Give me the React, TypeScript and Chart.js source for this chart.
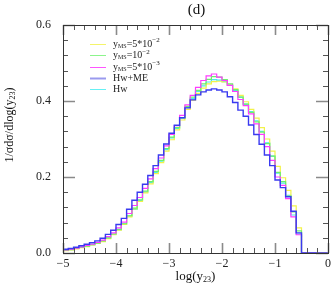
import React, { useEffect, useRef } from "react";
import { Chart, registerables } from "chart.js";
Chart.register(...registerables);

// Bin edges of the log(y23) histogram (51 edges, 50 bins)
const binEdges = [
  -5.0, -4.9, -4.8, -4.7, -4.6, -4.5, -4.4, -4.3, -4.2, -4.1,
  -4.0, -3.9, -3.8, -3.7, -3.6, -3.5, -3.4, -3.3, -3.2, -3.1,
  -3.0, -2.9, -2.8, -2.7, -2.6, -2.5, -2.4, -2.3, -2.2, -2.1,
  -2.0, -1.9, -1.8, -1.7, -1.6, -1.5, -1.4, -1.3, -1.2, -1.1,
  -1.0, -0.9, -0.8, -0.7, -0.6, -0.5, -0.4, -0.3, -0.2, -0.1, 0.0,
];

const yms5e2 = [
  0.006, 0.008, 0.011, 0.014, 0.017, 0.021, 0.025, 0.030, 0.038, 0.048,
  0.060, 0.075, 0.095, 0.116, 0.136, 0.158, 0.182, 0.209, 0.238, 0.268,
  0.298, 0.324, 0.350, 0.378, 0.402, 0.420, 0.434, 0.445, 0.451, 0.452,
  0.450, 0.442, 0.432, 0.415, 0.398, 0.378, 0.355, 0.330, 0.300, 0.268,
  0.228, 0.198, 0.165, 0.124, 0.066, 0, 0, 0, 0, 0,
];
const yms1e2 = [
  0.007, 0.009, 0.012, 0.015, 0.018, 0.022, 0.026, 0.032, 0.040, 0.050,
  0.062, 0.077, 0.098, 0.118, 0.140, 0.163, 0.188, 0.215, 0.244, 0.275,
  0.305, 0.330, 0.356, 0.386, 0.410, 0.428, 0.445, 0.457, 0.464, 0.463,
  0.456, 0.445, 0.430, 0.410, 0.392, 0.370, 0.345, 0.318, 0.288, 0.255,
  0.212, 0.188, 0.150, 0.108, 0.058, 0, 0, 0, 0, 0,
];
const yms5e3 = [
  0.008, 0.010, 0.013, 0.016, 0.020, 0.023, 0.028, 0.034, 0.043, 0.053,
  0.066, 0.081, 0.104, 0.125, 0.146, 0.170, 0.195, 0.222, 0.250, 0.282,
  0.312, 0.335, 0.362, 0.390, 0.415, 0.436, 0.454, 0.466, 0.471, 0.463,
  0.454, 0.441, 0.425, 0.404, 0.388, 0.366, 0.340, 0.312, 0.280, 0.244,
  0.200, 0.178, 0.143, 0.095, 0.048, 0, 0, 0, 0, 0,
];
const hwME = [
  0.010, 0.012, 0.015, 0.019, 0.023, 0.027, 0.032, 0.039, 0.049, 0.060,
  0.075, 0.091, 0.115, 0.139, 0.160, 0.181, 0.204, 0.230, 0.258, 0.287,
  0.315, 0.336, 0.356, 0.382, 0.403, 0.416, 0.424, 0.429, 0.432, 0.429,
  0.424, 0.411, 0.396, 0.376, 0.360, 0.337, 0.312, 0.286, 0.258, 0.230,
  0.192, 0.172, 0.148, 0.110, 0.053, 0, 0, 0, 0, 0,
];
const hw = [
  0.008, 0.010, 0.012, 0.015, 0.018, 0.022, 0.026, 0.031, 0.039, 0.049,
  0.061, 0.076, 0.097, 0.115, 0.138, 0.160, 0.185, 0.212, 0.242, 0.272,
  0.303, 0.328, 0.355, 0.383, 0.406, 0.425, 0.440, 0.450, 0.456, 0.455,
  0.451, 0.442, 0.428, 0.410, 0.392, 0.372, 0.348, 0.320, 0.290, 0.255,
  0.210, 0.184, 0.152, 0.100, 0.050, 0, 0, 0, 0, 0,
];

const xTickLabels = ["−5", "−4", "−3", "−2", "−1", "0"];
const yTickLabels = ["0.0", "0.2", "0.4", "0.6"];

const colYellow = "#f2f24a";
const colGreen = "#6cf06c";
const colMagenta = "#ff3cff";
const colBlue = "#3a3af0";
const colCyan = "#4ae8ee";

const SERIF = "'Liberation Serif', 'DejaVu Serif', serif";

type Part = { t: string; s?: number; dy?: number };

function drawRich(ctx: CanvasRenderingContext2D, parts: Part[], x: number, y: number, base: number) {
  let cx = x;
  for (const p of parts) {
    const size = p.s ?? base;
    ctx.font = `${size}px ${SERIF}`;
    ctx.fillText(p.t, cx, y + (p.dy ?? 0));
    cx += ctx.measureText(p.t).width;
  }
  return cx - x;
}
function richWidth(ctx: CanvasRenderingContext2D, parts: Part[], base: number) {
  let w = 0;
  for (const p of parts) {
    ctx.font = `${p.s ?? base}px ${SERIF}`;
    w += ctx.measureText(p.t).width;
  }
  return w;
}

const legendItems: { color: string; width: number; parts: Part[] }[] = [
  { color: "#f4f46a", width: 1, parts: [{ t: "y" }, { t: "MS", s: 6, dy: 2 }, { t: "=5*10" }, { t: "−2", s: 7, dy: -4 }] },
  { color: "#8cf48c", width: 1, parts: [{ t: "y" }, { t: "MS", s: 6, dy: 2 }, { t: "=10" }, { t: "−2", s: 7, dy: -4 }] },
  { color: "#ff55ff", width: 1, parts: [{ t: "y" }, { t: "MS", s: 6, dy: 2 }, { t: "=5*10" }, { t: "−3", s: 7, dy: -4 }] },
  { color: "#9a9aee", width: 2, parts: [{ t: "Hw+ME" }] },
  { color: "#66f0f4", width: 1, parts: [{ t: "Hw" }] },
];

const decorPlugin = {
  id: "decor",
  afterDatasetsDraw(chart: any) {
    const ctx: CanvasRenderingContext2D = chart.ctx;
    const { left, right, top, bottom } = chart.chartArea;
    const xs = chart.scales.x;
    const ys = chart.scales.y;
    ctx.save();
    // inward ticks
    const major = 10, minor = 5;
    for (let k = 0; k <= 25; k++) {
      const v = -5 + k * 0.2;
      const px = Math.round(xs.getPixelForValue(v)) + 0.5;
      const isMajor = k % 5 === 0;
      ctx.strokeStyle = isMajor ? "#8a8a8a" : "#555";
      ctx.lineWidth = isMajor ? 1.6 : 1;
      const L = isMajor ? major : minor;
      ctx.beginPath();
      ctx.moveTo(px, bottom);
      ctx.lineTo(px, bottom - L);
      ctx.moveTo(px, top);
      ctx.lineTo(px, top + L);
      ctx.stroke();
    }
    for (let k = 0; k <= 15; k++) {
      const v = k * 0.04;
      const py = Math.round(ys.getPixelForValue(v)) + 0.5;
      const isMajor = k % 5 === 0;
      ctx.strokeStyle = isMajor ? "#8a8a8a" : "#555";
      ctx.lineWidth = isMajor ? 1.6 : 1;
      const L = isMajor ? major + 2 : minor;
      ctx.beginPath();
      ctx.moveTo(left, py);
      ctx.lineTo(left + L, py);
      ctx.moveTo(right, py);
      ctx.lineTo(right - L, py);
      ctx.stroke();
    }
    // frame
    ctx.strokeStyle = "#333";
    ctx.lineWidth = 1;
    ctx.strokeRect(Math.round(left) + 0.5, Math.round(top) + 0.5, Math.round(right - left), Math.round(bottom - top));

    // title
    ctx.fillStyle = "#111";
    ctx.textBaseline = "middle";
    ctx.textAlign = "center";
    ctx.font = `15px ${SERIF}`;
    ctx.fillText("(d)", (left + right) / 2 + 1, 10);

    // x title
    ctx.textAlign = "left";
    const xt: Part[] = [{ t: "log(y" }, { t: "23", s: 8, dy: 3 }, { t: ")" }];
    const xw = richWidth(ctx, xt, 13);
    drawRich(ctx, xt, (left + right) / 2 - xw / 2, 277, 13);

    // y title
    ctx.save();
    ctx.translate(10, 125);
    ctx.rotate(-Math.PI / 2);
    const yt: Part[] = [{ t: "1/σdσ/dlog(y" }, { t: "23", s: 8, dy: 3 }, { t: ")" }];
    const yw = richWidth(ctx, yt, 12);
    drawRich(ctx, yt, -yw / 2, 0, 12);
    ctx.restore();

    // legend
    legendItems.forEach((it, i) => {
      const yy = 44 + i * 11.3;
      ctx.strokeStyle = it.color;
      ctx.lineWidth = it.width;
      ctx.beginPath();
      ctx.moveTo(90, Math.round(yy) + 0.5);
      ctx.lineTo(106, Math.round(yy) + 0.5);
      ctx.stroke();
      ctx.fillStyle = "#222";
      drawRich(ctx, it.parts, 113, yy + 0.5, 10);
    });
    ctx.restore();
  },
};

function pts(vals: number[]) {
  return binEdges.map((x, i) => ({ x, y: vals[Math.min(i, vals.length - 1)] }));
}

export default function App() {
  const ref = useRef<HTMLCanvasElement | null>(null);
  useEffect(() => {
    if (!ref.current) return;
    const ds = (label: string, data: number[], color: string, w: number, order: number) => ({
      label,
      data: pts(data),
      borderColor: color,
      borderWidth: w,
      pointRadius: 0,
      fill: false,
      stepped: "before" as const,
      order,
    });
    const chart = new Chart(ref.current, {
      type: "line",
      data: {
        datasets: [
          ds("Hw", hw, colCyan, 1.2, 5),
          ds("yMS=5*10^-2", yms5e2, colYellow, 1.2, 4),
          ds("yMS=10^-2", yms1e2, colGreen, 1.2, 3),
          ds("yMS=5*10^-3", yms5e3, colMagenta, 1.2, 2),
          ds("Hw+ME", hwME, colBlue, 1.4, 1),
        ],
      },
      options: {
        animation: false,
        responsive: true,
        maintainAspectRatio: false,
        layout: { padding: { top: 25, right: 4, left: 0, bottom: 0 } },
        plugins: { legend: { display: false }, tooltip: { enabled: false }, title: { display: false } },
        scales: {
          x: {
            type: "linear",
            min: -5,
            max: 0,
            grid: { display: false, drawTicks: false },
            border: { display: false },
            afterFit: (s: any) => { s.height = 33; s.paddingLeft = 0; s.paddingRight = 0; },
            ticks: {
              stepSize: 1,
              padding: 4,
              color: "#222",
              font: { family: SERIF, size: 12 },
              callback: (v: any) => {
                const i = Math.round(Number(v) + 5);
                return Math.abs(Number(v) + 5 - i) < 1e-6 ? xTickLabels[i] : "";
              },
            },
          },
          y: {
            type: "linear",
            min: 0,
            max: 0.6,
            grid: { display: false, drawTicks: false },
            border: { display: false },
            afterFit: (s: any) => { s.width = 63; s.paddingTop = 0; s.paddingBottom = 0; },
            ticks: {
              stepSize: 0.2,
              padding: 12,
              color: "#222",
              font: { family: SERIF, size: 12 },
              callback: (v: any) => {
                const i = Math.round(Number(v) / 0.2);
                return yTickLabels[i] ?? "";
              },
            },
          },
        },
      },
      plugins: [decorPlugin],
    });
    return () => chart.destroy();
  }, []);
  return (
    <div style={{ position: "absolute", left: 0, top: 0, width: 332, height: 286, background: "#fff" }}>
      <canvas ref={ref} />
    </div>
  );
}
